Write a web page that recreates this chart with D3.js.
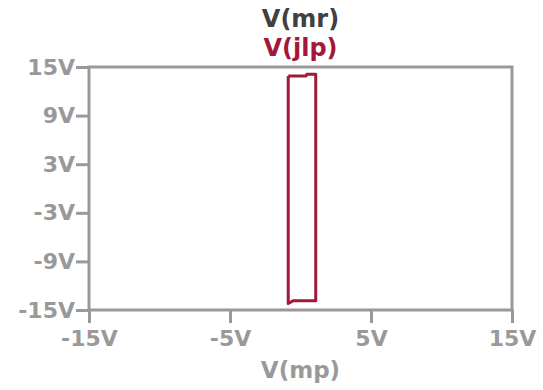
<!DOCTYPE html>
<html>
<head>
<meta charset="utf-8">
<script src="https://cdn.jsdelivr.net/npm/d3@7"></script>
<style>
  body { margin: 0; background: #fff; }
  text { font-family: "DejaVu Sans", Verdana, sans-serif; font-weight: bold; }
</style>
</head>
<body>
<svg id="chart"></svg>
<script>
// Tick values (volts)
const xTicks = [-15, -5, 5, 15];
const yTicks = [15, 9, 3, -3, -9, -15];

// XY trace: V(mp) on x, V(jlp) on y (closed loop)
const traceX = [-0.87, 0.40, 0.45, 1.08, 1.08, -0.50, -0.87, -0.87];
const traceY = [13.9, 13.9, 14.1, 14.1, -13.85, -13.85, -14.2, 13.9];

const titles = ['V(mr)', 'V(jlp)'];
const xTitle = 'V(mp)';

const config = {
    containerWidth: 543,
    containerHeight: 390,
    margin: { top: 67, bottom: 80, right: 31, left: 89 }
};

const axisColor = '#999999';
const width = config.containerWidth - config.margin.left - config.margin.right;
const height = config.containerHeight - config.margin.top - config.margin.bottom;

const svg = d3.select('#chart')
    .attr('width', config.containerWidth)
    .attr('height', config.containerHeight);

const chart = svg.append('g')
    .attr('transform', `translate(${config.margin.left},${config.margin.top})`);

// Scales
const xScale = d3.scaleLinear().domain([-15, 15]).range([0, width]);
const yScale = d3.scaleLinear().domain([-15, 15]).range([height, 0]);

const fmt = d => d + 'V';

// Axes
const xAxis = d3.axisBottom(xScale)
    .tickValues(xTicks)
    .tickFormat(fmt)
    .tickSize(13)
    .tickSizeOuter(0)
    .tickPadding(7);

const yAxis = d3.axisLeft(yScale)
    .tickValues(yTicks)
    .tickFormat(fmt)
    .tickSize(13)
    .tickSizeOuter(0)
    .tickPadding(1);

const xAxisG = chart.append('g')
    .attr('transform', `translate(0,${height})`)
    .call(xAxis);

const yAxisG = chart.append('g')
    .call(yAxis);

[xAxisG, yAxisG].forEach(g => {
    g.select('.domain').remove();
    g.selectAll('line').attr('stroke', axisColor).attr('stroke-width', 3);
    g.selectAll('text')
        .attr('fill', axisColor)
        .style('font-size', '22px');
});

// Plot frame
chart.append('rect')
    .attr('width', width)
    .attr('height', height)
    .attr('fill', 'none')
    .attr('stroke', axisColor)
    .attr('stroke-width', 3);

// Trace
const line = d3.line()
    .x(d => xScale(d[0]))
    .y(d => yScale(d[1]));

chart.append('path')
    .datum(d3.zip(traceX, traceY))
    .attr('d', line)
    .attr('fill', 'none')
    .attr('stroke', '#a3173a')
    .attr('stroke-width', 3)
    .attr('stroke-linejoin', 'round');

// Titles
const titleColors = ['#404040', '#a3173a'];
svg.selectAll('.title')
    .data(titles)
    .join('text')
    .attr('class', 'title')
    .attr('x', config.margin.left + width / 2)
    .attr('y', (d, i) => 27 + i * 29)
    .attr('text-anchor', 'middle')
    .attr('fill', (d, i) => titleColors[i])
    .style('font-size', '24px')
    .text(d => d);

svg.append('text')
    .attr('x', config.margin.left + width / 2)
    .attr('y', 378)
    .attr('text-anchor', 'middle')
    .attr('fill', axisColor)
    .style('font-size', '23px')
    .text(xTitle);
</script>
</body>
</html>
